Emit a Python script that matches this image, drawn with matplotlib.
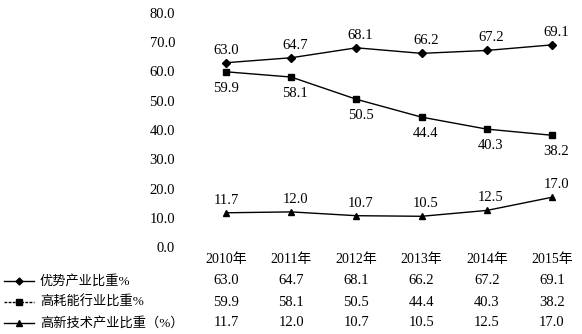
import matplotlib
matplotlib.use("Agg")
import matplotlib.pyplot as plt
from matplotlib.lines import Line2D
from matplotlib.transforms import blended_transform_factory

# Data
years = ["2010年", "2011年", "2012年", "2013年", "2014年", "2015年"]
youshi = [63.0, 64.7, 68.1, 66.2, 67.2, 69.1]
gaohao = [59.9, 58.1, 50.5, 44.4, 40.3, 38.2]
gaoxin = [11.7, 12.0, 10.7, 10.5, 12.5, 17.0]
names = ["优势产业比重%", "高耗能行业比重%", "高新技术产业比重（%）"]
yticks = [0, 10, 20, 30, 40, 50, 60, 70, 80]

fonts = ["Liberation Serif", "Noto Sans CJK SC"]
plt.rcParams["font.family"] = fonts
FS = 10.5   # numbers
FS_CJK = 9.5

W, H = 582, 334
fig = plt.figure(figsize=(W / 100, H / 100), dpi=100)

# axes: x=0 at px 226, 65.2 px per category; y 0 at px 247, 80 at px 13
left_px, right_px = 182, 580
ax = fig.add_axes([left_px / W, (H - 247) / H, (right_px - left_px) / W, 234 / H])
x0, step = 226, 65.2
ax.set_xlim((left_px - x0) / step, (right_px - x0) / step)
ax.set_ylim(0, 80)
for s in ax.spines.values():
    s.set_visible(False)
ax.set_xticks([])
ax.set_yticks(yticks)
ax.set_yticklabels([f"{v:.1f}" for v in yticks], fontsize=FS)
ax.tick_params(axis="y", length=0, pad=5)

x = list(range(len(years)))
series = [
    (youshi, "D", 3.8, 9),
    (gaohao, "s", 4.2, -12),
    (gaoxin, "^", 5.0, 9),
]
for vals, mk, ms, dy in series:
    ax.plot(x, vals, color="black", lw=1.0, marker=mk, ms=ms)
    for i, v in enumerate(vals):
        dx = 0 if i == 0 else 3
        ax.annotate(f"{v:.1f}", (i, v), xytext=(dx, dy), textcoords="offset points",
                    ha="center", va="center", fontsize=FS)

# table under the chart
tr = blended_transform_factory(ax.transData, fig.transFigure)
year_y = (H - 259) / H
row_y = [(H - 281) / H, (H - 302) / H, (H - 323) / H]
for i, yr in enumerate(years):
    ax.text(i, year_y, yr, transform=tr, ha="center", va="center", fontsize=10, clip_on=False)
rows = [youshi, gaohao, gaoxin]
for r, vals in enumerate(rows):
    for i, v in enumerate(vals):
        ax.text(i, row_y[r], f"{v:.1f}", transform=tr, ha="center", va="center",
                fontsize=FS, clip_on=False)

# legend keys
styles = [("D", 3.5, "-"), ("s", 3.8, (0, (2, 1))), ("^", 4.5, "-")]
for r, (mk, ms, ls) in enumerate(styles):
    fig.add_artist(Line2D([4 / W, 34 / W], [row_y[r], row_y[r]], color="black", lw=1.0,
                          ls=ls, transform=fig.transFigure))
    fig.add_artist(Line2D([19 / W], [row_y[r]], marker=mk, ms=ms, color="black",
                          transform=fig.transFigure))
    fig.text(40 / W, row_y[r], names[r], ha="left", va="center", fontsize=FS_CJK)

fig.savefig("out.png", dpi=100)
